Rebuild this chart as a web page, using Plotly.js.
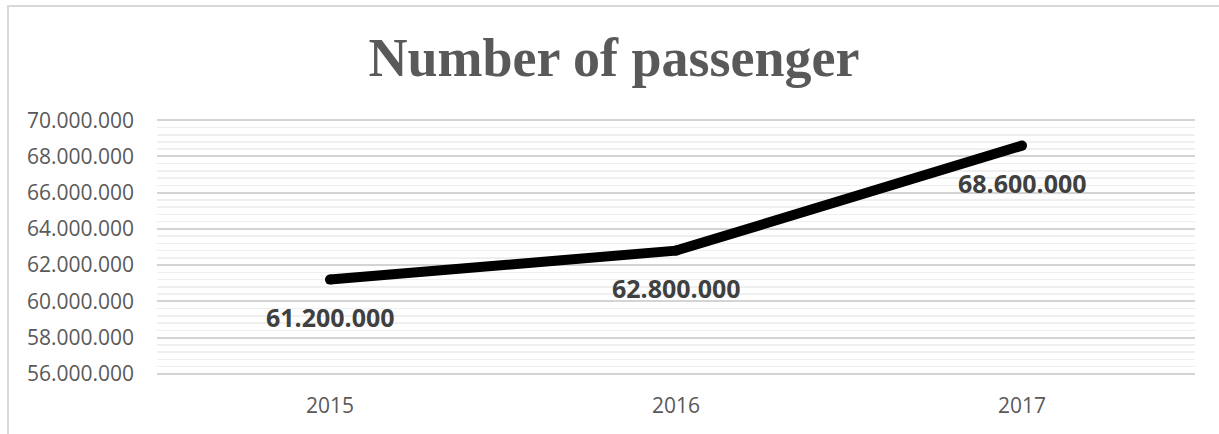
<!DOCTYPE html>
<html>
<head>
<meta charset="utf-8">
<script src="https://cdn.plot.ly/plotly-3.0.1.min.js"></script>
<style>
html,body{margin:0;padding:0;background:#fff;overflow:hidden;}
#wrap{position:relative;width:1219px;height:434px;}
#chart{width:1219px;height:434px;}
#frame{position:absolute;left:7px;top:5px;width:1300px;height:500px;border:2px solid #d9d9d9;pointer-events:none;box-sizing:border-box;}
</style>
</head>
<body>
<div id="wrap">
<div id="chart"></div>
<div id="frame"></div>
</div>
<script>
const years = ['2015', '2016', '2017'];
const passengers = [61200000, 62800000, 68600000];
const labelTexts = ['61.200.000', '62.800.000', '68.600.000'];
const titleText = 'Number of passenger';

const trace = {
  x: years,
  y: passengers,
  type: 'scatter',
  mode: 'lines+markers',
  line: {color: '#000000', width: 10, shape: 'linear'},
  marker: {color: '#000000', size: 10, line: {width: 0}},
  hoverinfo: 'none',
  showlegend: false
};

const annotations = [];
for (let i = 0; i < years.length; i++) {
  annotations.push({
    x: i, y: passengers[i], xref: 'x', yref: 'y',
    text: '<b>' + labelTexts[i] + '</b>', showarrow: false,
    xanchor: 'center', yanchor: 'middle',
    yshift: -37,
    font: {family: 'Open Sans', size: 25, color: '#404040'}
  });
}

const layout = {
  width: 1219, height: 434,
  paper_bgcolor: '#ffffff', plot_bgcolor: '#ffffff',
  margin: {l: 157, r: 24, t: 119, b: 59},
  separators: ',.',
  title: {
    text: '<b>' + titleText + '</b>',
    font: {family: 'Liberation Serif, Times New Roman, serif', size: 54, color: '#595959'},
    x: 614/1219, xanchor: 'center', xref: 'container',
    y: 1 - 57/434, yanchor: 'middle', yref: 'container'
  },
  xaxis: {
    type: 'category', range: [-0.5, 2.5],
    showgrid: false, zeroline: false, showline: false, ticks: '',
    tickfont: {family: 'Open Sans, sans-serif', size: 21, color: '#595959'},
    ticklabelstandoff: 16
  },
  yaxis: {
    range: [55930000, 70070000], dtick: 2000000, tick0: 0,
    tickformat: ',d',
    showgrid: true, gridcolor: '#d4d4d4', gridwidth: 2,
    zeroline: false, showline: false, ticks: '',
    tickfont: {family: 'Open Sans, sans-serif', size: 21, color: '#595959'},
    ticklabelstandoff: 22,
    minor: {dtick: 400000, tick0: 0, showgrid: true, gridcolor: '#efefef', gridwidth: 1.5}
  },
  annotations: annotations,
  hovermode: false
};

Plotly.newPlot('chart', [trace], layout, {displayModeBar: false, staticPlot: true});
</script>
</body>
</html>
